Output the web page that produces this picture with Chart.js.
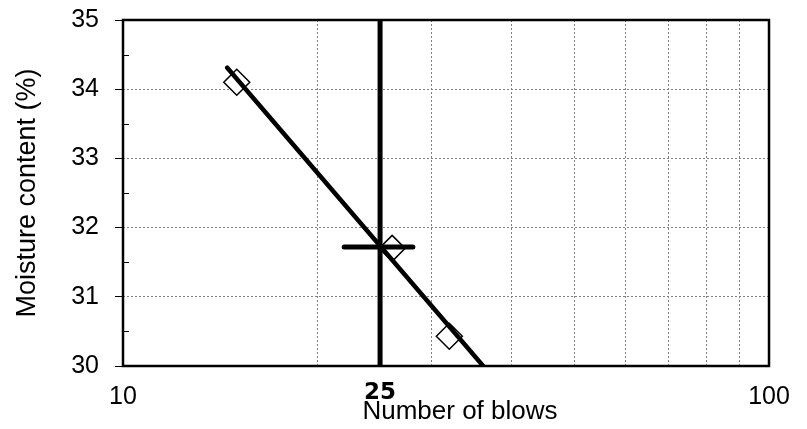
<!DOCTYPE html>
<html>
<head>
<meta charset="utf-8">
<script src="https://cdn.jsdelivr.net/npm/chart.js@4/dist/chart.umd.min.js"></script>
<style>
  html, body { margin: 0; padding: 0; background: #fff; }
  #wrap { width: 807px; height: 429px; }
</style>
</head>
<body>
<div id="wrap"><canvas id="c"></canvas></div>
<script>
// measured points (blows vs moisture)
const blows = [15.0, 26.1, 32.0];
const moisture = [34.10, 31.70, 30.43];

// flow line and the 25-blow reading
const fitX = [14.5, 36.1];
const fitY = [34.31, 30.0];
const liquidX = [25, 25];
const liquidY = [30, 35];
const readX = [22.0, 28.1];
const readY = [31.72, 31.72];

// axis ticks
const xGrid = [10, 20, 30, 40, 50, 60, 70, 80, 90, 100];
const xLabels = [10, 100];
const xMarked = 25;
const yMajor = [30, 31, 32, 33, 34, 35];
const yMinor = [30.5, 31.5, 32.5, 33.5, 34.5];

const toPts = (xs, ys) => xs.map((x, i) => ({ x: x, y: ys[i] }));

const extras = {
    id: 'extras',
    afterDraw(chart) {
        const { ctx, chartArea: a, scales } = chart;
        ctx.save();
        // small inward ticks at the half units
        ctx.strokeStyle = '#000';
        ctx.lineWidth = 1;
        yMinor.forEach(v => {
            const y = Math.round(scales.y.getPixelForValue(v)) + 0.5;
            ctx.beginPath();
            ctx.moveTo(a.left, y);
            ctx.lineTo(a.left + 6, y);
            ctx.stroke();
        });
        // frame round the plot
        ctx.lineWidth = 2.5;
        ctx.strokeRect(a.left, a.top, a.right - a.left, a.bottom - a.top);

        // bold 25 under the vertical line and the axis title
        ctx.fillStyle = '#000';
        ctx.textAlign = 'center';
        ctx.textBaseline = 'middle';
        ctx.font = 'bold 23px "DejaVu Sans", sans-serif';
        ctx.fillText(String(xMarked), scales.x.getPixelForValue(xMarked), 393);
        ctx.font = '26px "Liberation Sans", Arial, sans-serif';
        ctx.fillText('Number of blows', (a.left + a.right) / 2 + 14, 412);
        ctx.restore();
    }
};

new Chart(document.getElementById('c'), {
    type: 'scatter',
    data: {
        datasets: [
            {
                data: toPts(blows, moisture),
                pointStyle: 'rectRot',
                pointRadius: 13,
                pointBackgroundColor: '#fff',
                pointBorderColor: '#000',
                pointBorderWidth: 1.5,
                order: 3
            },
            {
                data: toPts(fitX, fitY),
                showLine: true,
                borderColor: '#000',
                borderWidth: 4.5,
                borderCapStyle: 'round',
                pointRadius: 0,
                order: 2
            },
            {
                data: toPts(liquidX, liquidY),
                showLine: true,
                borderColor: '#000',
                borderWidth: 5,
                pointRadius: 0,
                order: 1
            },
            {
                data: toPts(readX, readY),
                showLine: true,
                borderColor: '#000',
                borderWidth: 5,
                borderCapStyle: 'round',
                pointRadius: 0,
                order: 1
            }
        ]
    },
    options: {
        responsive: true,
        maintainAspectRatio: false,
        animation: false,
        layout: { padding: { left: 0, right: 38, top: 20, bottom: 0 } },
        plugins: { legend: { display: false }, tooltip: { enabled: false } },
        scales: {
            x: {
                type: 'logarithmic',
                min: 10,
                max: 100,
                afterBuildTicks: s => { s.ticks = xGrid.map(v => ({ value: v })); },
                afterFit: s => { s.height = 63; s.paddingLeft = 0; s.paddingRight = 0; },
                border: { display: false, dash: [2, 2] },
                grid: {
                    drawTicks: false,
                    lineWidth: 1,
                    color: c => (c.tick && xLabels.includes(c.tick.value)) ? 'rgba(0,0,0,0)' : '#808080'
                },
                ticks: {
                    autoSkip: false,
                    maxRotation: 0,
                    padding: 16,
                    color: '#000',
                    font: { family: '"Liberation Sans", Arial, sans-serif', size: 25 },
                    callback: v => xLabels.includes(v) ? String(v) : ''
                }
            },
            y: {
                min: 30,
                max: 35,
                afterBuildTicks: s => { s.ticks = yMajor.map(v => ({ value: v })); },
                afterFit: s => { s.width = 123; s.paddingTop = 0; s.paddingBottom = 0; },
                border: { display: false, dash: [2, 2] },
                grid: {
                    tickLength: 8,
                    tickColor: '#000',
                    tickWidth: 1,
                    lineWidth: 1,
                    color: c => (c.tick && (c.tick.value === 30 || c.tick.value === 35)) ? 'rgba(0,0,0,0)' : '#808080'
                },
                ticks: {
                    padding: 16,
                    color: '#000',
                    font: { family: '"Liberation Sans", Arial, sans-serif', size: 25 },
                    callback: v => String(v)
                },
                title: {
                    display: true,
                    text: 'Moisture content (%)',
                    color: '#000',
                    font: { family: '"Liberation Sans", Arial, sans-serif', size: 27 },
                    padding: { top: 11, bottom: 0 }
                }
            }
        }
    },
    plugins: [extras]
});
</script>
</body>
</html>
